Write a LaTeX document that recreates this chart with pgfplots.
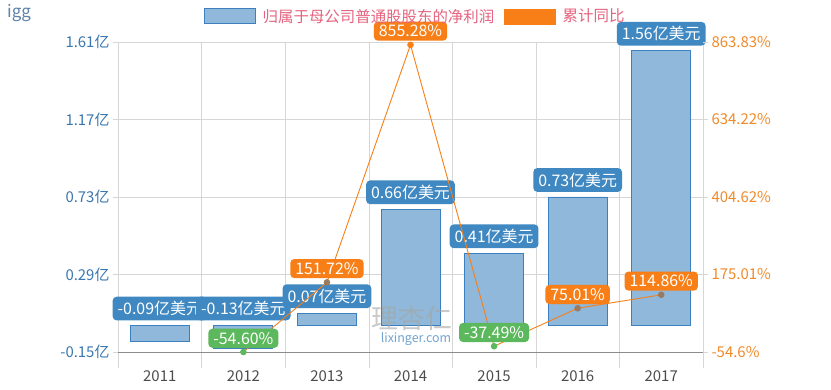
\documentclass[border=0pt]{standalone}
\usepackage{pgfplots}
\pgfplotsset{compat=1.18}
\usepackage{fontspec}
\setmainfont{Noto Sans CJK SC}
\definecolor{barfill}{HTML}{8FB8DA}
\definecolor{barline}{HTML}{3D80BF}
\definecolor{lblblue}{HTML}{3F88C1}
\definecolor{orng}{HTML}{F87F17}
\definecolor{grn}{HTML}{5CB85C}
\definecolor{leftc}{HTML}{3A77AE}
\definecolor{rightc}{HTML}{F08A2A}
\definecolor{gridc}{HTML}{D6D6D6}
\definecolor{legtext}{HTML}{E5647F}
\definecolor{brn}{HTML}{9A7B62}
\definecolor{iggc}{HTML}{5E82AA}
\begin{document}
\begin{tikzpicture}[x=1bp,y=1bp]
\useasboundingbox (0,0) rectangle (831,389);
\fill[white] (0,0) rectangle (831,389);
\node[anchor=north west, text=iggc, font=\fontsize{17}{19}\selectfont, inner sep=0pt] at (7,385) {igg};

% grid axis
\begin{axis}[
  at={(118bp,37bp)}, anchor=south west, scale only axis,
  width=585bp, height=310bp,
  xmin=-0.5, xmax=6.5, ymin=0, ymax=1,
  axis line style={draw=none},
  xtick={-0.5,0.5,1.5,2.5,3.5,4.5,5.5,6.5}, xticklabels={},
  ytick=\empty, xtick pos=bottom,
  xmajorgrids, major grid style={gridc},
  tick align=outside, major tick length=16bp, xtick style={draw=gridc},
]
\addplot[draw=none, forget plot] coordinates {(0,0)};
\end{axis}

% bars
\begin{axis}[
  at={(118bp,37bp)}, anchor=south west, scale only axis,
  width=585bp, height=310bp,
  xmin=-0.5, xmax=6.5, ymin=-0.15, ymax=1.61, clip=false,
  axis x line*=bottom, axis y line*=left,
  x axis line style={draw=black!45,-}, y axis line style={draw=none},
  xtick={0,1,2,3,4,5,6}, xticklabels={2011,2012,2013,2014,2015,2016,2017},
  xtick style={draw=none},
  ytick={-0.15,0.29,0.73,1.17,1.61},
  yticklabels={-0.15亿,0.29亿,0.73亿,1.17亿,1.61亿},
  ymajorgrids, major grid style={gridc},
  tick align=outside, major tick length=5bp, ytick style={draw=gridc},
  tick label style={font=\fontsize{15}{17}\selectfont},
  yticklabel style={text=leftc},
  xticklabel style={text=black!70, yshift=-10bp},
]
\addplot[ybar, bar shift=0pt, bar width=59bp, fill=barfill, draw=barline, line width=0.8bp]
  coordinates {(0,-0.09) (1,-0.13) (2,0.07) (3,0.66) (4,0.41) (5,0.73) (6,1.56)};
\addplot[draw=none, mark=none, nodes near coords, point meta=explicit symbolic,
  every node near coord/.append style={anchor=south, yshift=5bp, fill=lblblue, text=white,
    rounded corners=4bp, inner xsep=5bp, inner ysep=4.5bp, font=\fontsize{16}{18}\selectfont}]
  coordinates {(0,0)[-0.09亿美元] (1,0)[-0.13亿美元] (2,0.07)[0.07亿美元] (3,0.66)[0.66亿美元] (4,0.41)[0.41亿美元] (5,0.73)[0.73亿美元] (6,1.56)[1.56亿美元]};
\end{axis}

% line
\begin{axis}[
  at={(118bp,37bp)}, anchor=south west, scale only axis,
  width=585bp, height=310bp,
  xmin=-0.5, xmax=6.5, ymin=-54.6, ymax=863.83, clip=false,
  axis x line=none, axis y line*=right, y axis line style={draw=none},
  ytick={-54.6,175.01,404.62,634.22,863.83},
  yticklabels={-54.6\%,175.01\%,404.62\%,634.22\%,863.83\%},
  tick align=outside, major tick length=5bp, ytick style={draw=gridc},
  tick label style={font=\fontsize{15}{17}\selectfont},
  yticklabel style={text=rightc},
  legend columns=2,
  legend style={at={(0.508,1.083)}, anchor=center, draw=none, fill=none,
    font=\fontsize{15.5}{17}\selectfont, text=legtext,
    /tikz/every odd column/.append style={column sep=5bp},
    /tikz/every even column/.append style={column sep=8bp}},
]
\addlegendimage{legend image code/.code={\draw[fill=barfill, draw=barline, line width=0.8bp] (0bp,-7.5bp) rectangle (51bp,7.5bp);}}
\addlegendentry{归属于母公司普通股股东的净利润}
\addlegendimage{legend image code/.code={\draw[fill=orng, draw=orng] (0bp,-7.5bp) rectangle (51bp,7.5bp);}}
\addlegendentry{累计同比}
\addplot[orng, line width=0.9bp, forget plot, scatter, scatter src=explicit symbolic,
  scatter/classes={n={mark=*, grn, mark size=2.8bp}, p={mark=*, brn, mark size=2.8bp}, t={mark=*, orng, mark size=2.8bp}}]
  coordinates {(1,-54.60)[n] (2,151.72)[p] (3,855.28)[t] (4,-37.49)[n] (5,75.01)[p] (6,114.86)[p]};
\addplot[draw=none, mark=none, forget plot, nodes near coords, point meta=explicit symbolic,
  every node near coord/.append style={anchor=south, yshift=4bp, fill=orng, text=white,
    rounded corners=4bp, inner xsep=5bp, inner ysep=3.5bp, font=\fontsize{16}{18}\selectfont}]
  coordinates {(2,151.72)[151.72\%] (3,855.28)[855.28\%] (5,75.01)[75.01\%] (6,114.86)[114.86\%]};
\addplot[draw=none, mark=none, forget plot, nodes near coords, point meta=explicit symbolic,
  every node near coord/.append style={anchor=south, yshift=4bp, fill=grn, text=white,
    rounded corners=4bp, inner xsep=5bp, inner ysep=3.5bp, font=\fontsize{16}{18}\selectfont}]
  coordinates {(1,-54.60)[-54.60\%] (4,-37.49)[-37.49\%]};
\end{axis}
% watermark
\node[text=black!35, opacity=0.6, font=\fontsize{27}{29}\selectfont] at (412,71) {理杏仁};
\node[text=barline!90, opacity=0.8, font=\fontsize{12.5}{14}\selectfont] at (416,50) {lixinger.com};
\end{tikzpicture}
\end{document}
